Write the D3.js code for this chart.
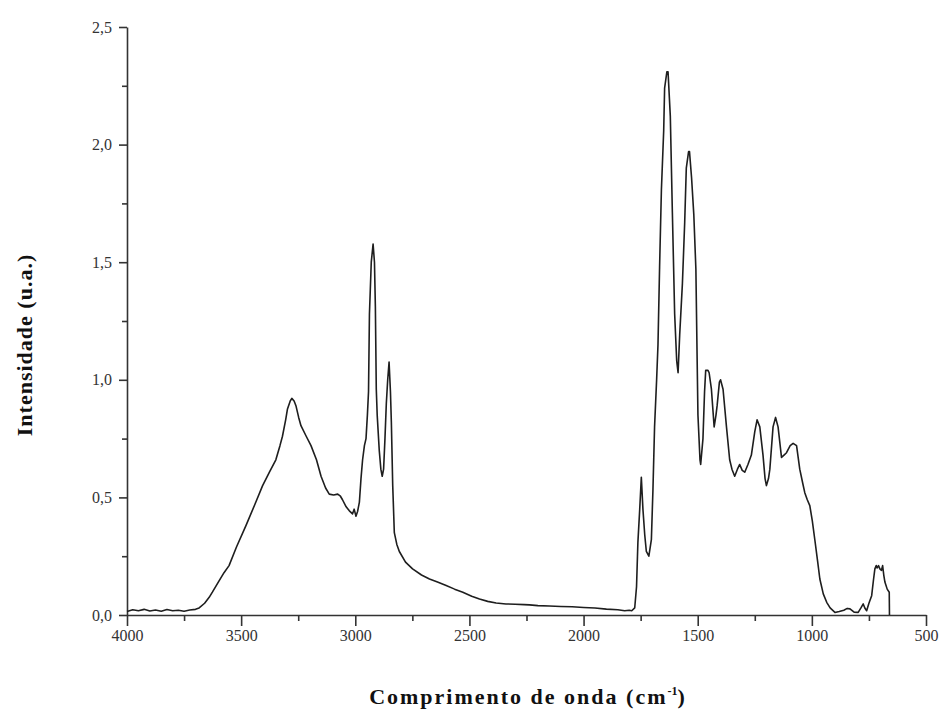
<!DOCTYPE html>
<html>
<head>
<meta charset="utf-8">
<script src="https://cdn.jsdelivr.net/npm/d3@7"></script>
<style>
  html, body { margin: 0; padding: 0; background: #fff; }
  svg { display: block; }
</style>
</head>
<body>
<svg id="chart" width="945" height="711"></svg>
<script>
// ---- data ----
const wavenumber = [
  4000,3975,3950,3925,3900,3875,3850,3825,3800,3775,3750,3725,3700,3684,3660,3640,3626,3600,3575,3553,
  3520,3479,3440,3406,3375,3348,3330,3319,3305,3297,3285,3278,3268,3260,3248,3238,3215,3194,3170,3150,
  3130,3114,3095,3077,3065,3056,3040,3026,3012,3005,2997,2990,2982,2975,2968,2960,2953,2947,2942,2938,
  2930,2922,2916,2912,2908,2904,2895,2888,2882,2876,2870,2864,2858,2852,2846,2842,2836,2829,2818,2807,
  2780,2749,2710,2675,2640,2602,2565,2529,2490,2456,2420,2383,2340,2300,2260,2237,2200,2150,2100,2050,
  2000,1950,1900,1850,1820,1800,1789,1776,1768,1762,1754,1747,1740,1732,1725,1714,1703,1696,1689,1680,
  1674,1667,1659,1649,1645,1635,1630,1620,1611,1601,1592,1586,1579,1567,1557,1550,1540,1536,1527,1517,
  1508,1503,1499,1490,1487,1477,1470,1465,1455,1450,1440,1428,1420,1415,1405,1400,1389,1374,1360,1350,
  1338,1326,1316,1305,1294,1280,1265,1250,1240,1228,1214,1205,1199,1190,1184,1170,1159,1148,1133,1122,
  1111,1095,1082,1067,1053,1040,1031,1020,1009,998,987,975,965,950,935,920,899,880,860,845,
  833,815,797,785,775,768,760,750,738,730,724,718,714,708,702,695,690,685,680,670,
  661,660
];
const intensity = [
  0.015,0.022,0.018,0.024,0.017,0.021,0.016,0.023,0.018,0.020,0.016,0.021,0.024,0.030,0.050,0.075,0.097,0.140,0.180,0.210,
  0.290,0.380,0.470,0.550,0.610,0.660,0.720,0.760,0.830,0.876,0.910,0.921,0.910,0.890,0.840,0.805,0.760,0.720,0.660,0.590,
  0.540,0.514,0.510,0.514,0.505,0.490,0.460,0.443,0.430,0.450,0.420,0.440,0.480,0.580,0.660,0.720,0.750,0.850,0.950,1.280,
  1.500,1.577,1.500,1.310,0.960,0.850,0.700,0.620,0.590,0.620,0.750,0.900,1.000,1.075,0.950,0.820,0.550,0.350,0.300,0.270,
  0.225,0.196,0.170,0.153,0.140,0.125,0.110,0.097,0.080,0.068,0.058,0.051,0.047,0.046,0.044,0.043,0.040,0.038,0.036,0.035,
  0.032,0.030,0.025,0.022,0.018,0.020,0.018,0.030,0.120,0.310,0.450,0.585,0.450,0.340,0.270,0.250,0.320,0.536,0.800,1.000,
  1.150,1.480,1.810,2.060,2.240,2.310,2.310,2.120,1.710,1.280,1.080,1.030,1.190,1.410,1.670,1.900,1.970,1.970,1.860,1.700,
  1.470,1.120,0.850,0.660,0.640,0.750,0.950,1.040,1.040,1.030,0.960,0.800,0.850,0.890,0.990,1.000,0.960,0.800,0.660,0.620,
  0.590,0.620,0.640,0.615,0.607,0.640,0.680,0.780,0.830,0.800,0.680,0.580,0.550,0.580,0.620,0.800,0.840,0.800,0.670,0.680,
  0.690,0.720,0.730,0.720,0.620,0.560,0.520,0.490,0.465,0.400,0.320,0.230,0.153,0.090,0.054,0.030,0.011,0.015,0.020,0.028,
  0.026,0.012,0.011,0.030,0.047,0.030,0.018,0.050,0.082,0.150,0.196,0.210,0.200,0.210,0.196,0.190,0.210,0.170,0.140,0.110,
  0.097,0.000
];
const xTickValues = [4000, 3500, 3000, 2500, 2000, 1500, 1000, 500];
const xMinorValues = [3750, 3250, 2750, 2250, 1750, 1250, 750];
const yTickValues = [0, 0.5, 1.0, 1.5, 2.0, 2.5];
const yMinorValues = [0.25, 0.75, 1.25, 1.75, 2.25];
const xTitle = "Comprimento de onda (cm";
const yTitle = "Intensidade (u.a.)";

// ---- drawing ----
const svg = d3.select("#chart");
const x = d3.scaleLinear().domain([4000, 500]).range([127, 926]);
const y = d3.scaleLinear().domain([0, 2.5]).range([615, 27]);
const fmtY = v => d3.format(".1f")(v).replace(".", ",");
const fmtX = d3.format("d");

const axisColor = "#333";
const tickFont = "'Liberation Serif', 'Times New Roman', serif";

// minor ticks
svg.append("g").attr("transform", `translate(0,${y(0)})`)
  .call(d3.axisBottom(x).tickValues(xMinorValues).tickSize(6).tickSizeOuter(0).tickFormat(""))
  .call(g => g.select(".domain").remove());
svg.append("g").attr("transform", `translate(${x(4000)},0)`)
  .call(d3.axisLeft(y).tickValues(yMinorValues).tickSize(5).tickSizeOuter(0).tickFormat(""))
  .call(g => g.select(".domain").remove());

// major axes
const gx = svg.append("g").attr("transform", `translate(0,${y(0)})`)
  .call(d3.axisBottom(x).tickValues(xTickValues).tickSize(11).tickSizeOuter(0).tickPadding(4).tickFormat(fmtX));
const gy = svg.append("g").attr("transform", `translate(${x(4000)},0)`)
  .call(d3.axisLeft(y).tickValues(yTickValues).tickSize(8).tickSizeOuter(0).tickPadding(7).tickFormat(fmtY));

svg.selectAll(".tick line, .domain").attr("stroke", axisColor).attr("stroke-width", 1.6);
svg.selectAll(".tick text")
  .attr("fill", "#333")
  .style("font-family", tickFont)
  .style("font-size", "16px");

// spectrum line
const pts = wavenumber.map((w, i) => [w, intensity[i]]);
const line = d3.line().x(d => x(d[0])).y(d => y(d[1]));
svg.append("path")
  .datum(pts)
  .attr("fill", "none")
  .attr("stroke", "#1e1e1e")
  .attr("stroke-width", 1.6)
  .attr("stroke-linejoin", "round")
  .attr("d", line);

// axis titles
const xt = svg.append("text")
  .attr("x", 528).attr("y", 704)
  .attr("text-anchor", "middle")
  .style("font-family", tickFont)
  .style("font-weight", "bold")
  .style("font-size", "22px")
  .style("letter-spacing", "2px")
  .attr("fill", "#111");
xt.append("tspan").text(xTitle);
xt.append("tspan").attr("dy", -9).style("font-size", "12px").style("letter-spacing", "0px").text("-1");
xt.append("tspan").attr("dy", 9).text(")");

svg.append("text")
  .attr("transform", "translate(32,345) rotate(-90)")
  .attr("text-anchor", "middle")
  .style("font-family", tickFont)
  .style("font-weight", "bold")
  .style("font-size", "22px")
  .style("letter-spacing", "1px")
  .attr("fill", "#111")
  .text(yTitle);
</script>
</body>
</html>
